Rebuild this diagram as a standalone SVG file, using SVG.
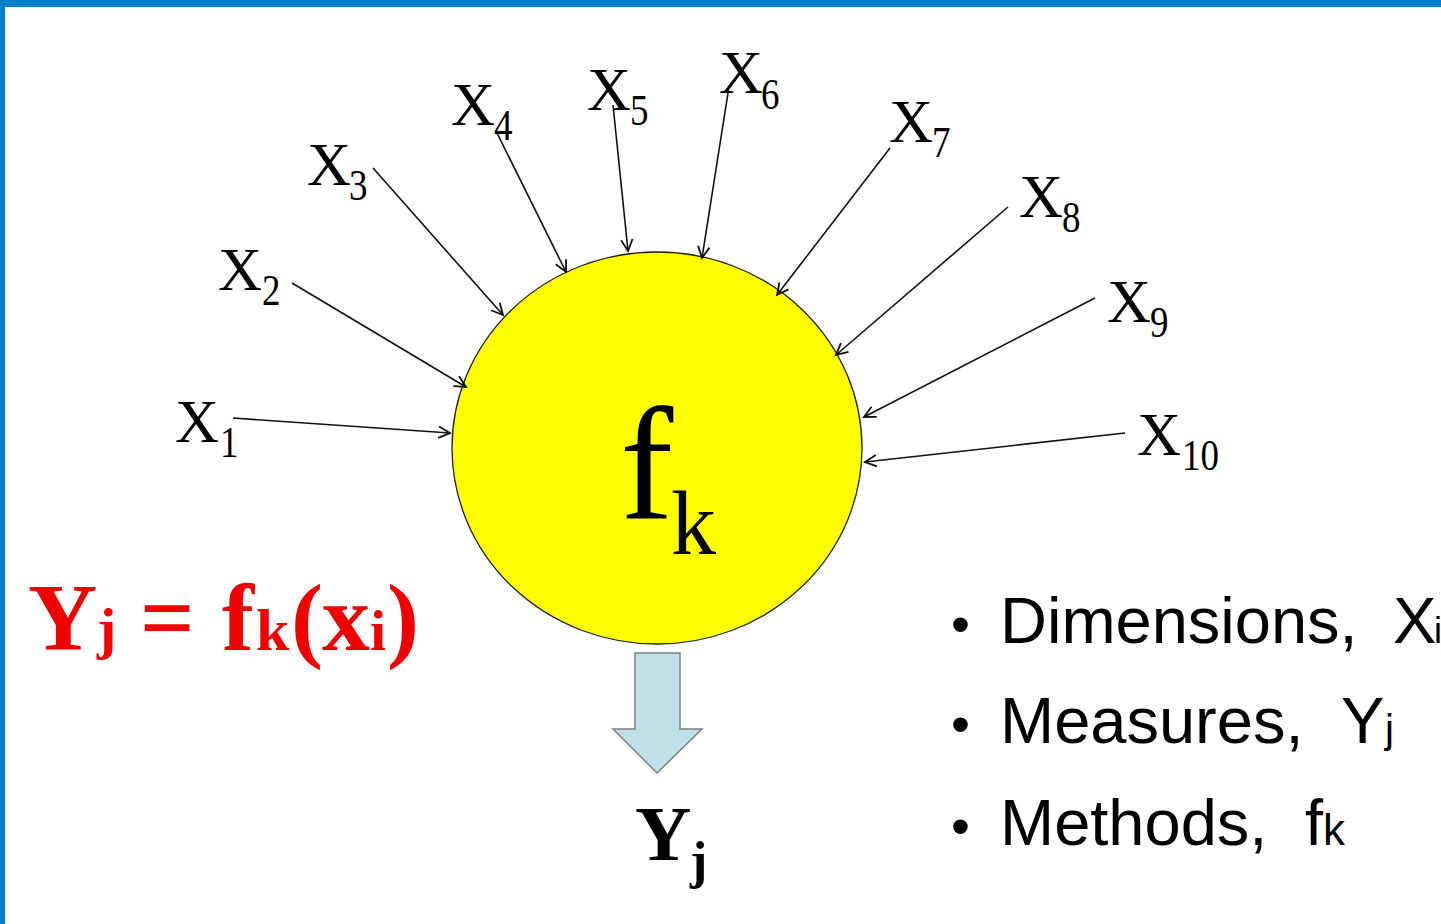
<svg xmlns="http://www.w3.org/2000/svg" width="1441" height="924" viewBox="0 0 1441 924">
<style>
.tm{font-family:"Liberation Serif","Times New Roman",serif;fill:#000}
.xl{font-size:61px}
.sub{font-size:37px}
.red{font-family:"Liberation Serif","Times New Roman",serif;font-weight:bold;fill:#F00000}
.bl{font-family:"Liberation Sans",Arial,sans-serif;fill:#000}
.conn line{stroke:#111;stroke-width:1.6;fill:none}
</style>
<defs>
<marker id="ah" markerUnits="userSpaceOnUse" markerWidth="16" markerHeight="16" refX="11" refY="6" orient="auto" viewBox="0 0 14 12">
<path d="M1,1 L11,6 L1,11" fill="none" stroke="#111" stroke-width="1.6"/>
</marker>
</defs>
<rect x="0" y="0" width="1441" height="924" fill="#fff"/>
<rect x="0" y="0" width="1441" height="7" fill="#0080CC"/>
<rect x="0" y="0" width="5" height="924" fill="#0080CC"/>

<g id="node-fk">
<ellipse cx="657" cy="448" rx="205" ry="196" fill="#FFFF00" stroke="#222" stroke-width="1.3"/>
<text class="tm" x="620" y="518" font-size="160">f</text>
<text class="tm" x="671" y="554" font-size="90">k</text>
</g>

<g id="connectors" class="conn">
<line x1="233" y1="418" x2="450" y2="433" marker-end="url(#ah)"/>
<line x1="292" y1="283" x2="466" y2="387" marker-end="url(#ah)"/>
<line x1="373" y1="168" x2="503" y2="315" marker-end="url(#ah)"/>
<line x1="497" y1="133" x2="566" y2="272" marker-end="url(#ah)"/>
<line x1="613" y1="105" x2="628" y2="251" marker-end="url(#ah)"/>
<line x1="728" y1="93" x2="702" y2="258" marker-end="url(#ah)"/>
<line x1="890" y1="148" x2="777" y2="295" marker-end="url(#ah)"/>
<line x1="1008" y1="207" x2="836" y2="355" marker-end="url(#ah)"/>
<line x1="1095" y1="298" x2="864" y2="417" marker-end="url(#ah)"/>
<line x1="1125" y1="433" x2="865" y2="462" marker-end="url(#ah)"/>
</g>

<g id="x1"><text class="tm xl" x="175" y="442">X</text><text class="tm sub" transform="translate(220,457) scale(1,1.2)">1</text></g>
<g id="x2"><text class="tm xl" x="218" y="290">X</text><text class="tm sub" transform="translate(262,305) scale(1,1.2)">2</text></g>
<g id="x3"><text class="tm xl" x="307" y="185">X</text><text class="tm sub" transform="translate(349,200) scale(1,1.2)">3</text></g>
<g id="x4"><text class="tm xl" x="451" y="125">X</text><text class="tm sub" transform="translate(494,140) scale(1,1.2)">4</text></g>
<g id="x5"><text class="tm xl" x="587" y="110">X</text><text class="tm sub" transform="translate(630,125) scale(1,1.2)">5</text></g>
<g id="x6"><text class="tm xl" x="719" y="93">X</text><text class="tm sub" transform="translate(761,109) scale(1,1.2)">6</text></g>
<g id="x7"><text class="tm xl" x="889" y="142">X</text><text class="tm sub" transform="translate(932,157) scale(1,1.2)">7</text></g>
<g id="x8"><text class="tm xl" x="1019" y="217">X</text><text class="tm sub" transform="translate(1062,232) scale(1,1.2)">8</text></g>
<g id="x9"><text class="tm xl" x="1107" y="322">X</text><text class="tm sub" transform="translate(1150,337) scale(1,1.2)">9</text></g>
<g id="x10"><text class="tm xl" x="1137" y="455">X</text><text class="tm sub" transform="translate(1182,470) scale(1,1.2)">10</text></g>

<g id="formula">
<text class="red" x="28" y="650" font-size="96">Y</text>
<text class="red" x="97" y="648" font-size="58">j</text>
<text class="red" x="140" y="650" font-size="96">=</text>
<text class="red" x="222" y="650" font-size="96">f</text>
<text class="red" x="256" y="650" font-size="60">k</text>
<text class="red" x="291" y="650" font-size="96">(</text>
<text class="red" x="322" y="650" font-size="96">x</text>
<text class="red" x="370" y="650" font-size="58">i</text>
<text class="red" x="387" y="650" font-size="96">)</text>
</g>

<g id="output-arrow">
<polygon points="635,653 680,653 680,729 702,729 657,773 613,729 635,729" fill="#BFE0E6" stroke="#808080" stroke-width="1.5"/>
</g>

<g id="node-yj">
<text class="tm" x="635" y="860" font-size="78" font-weight="bold">Y</text>
<text class="tm" x="690" y="878" font-size="52" font-weight="bold">j</text>
</g>

<g id="bullets">
<text class="bl" x="951" y="643" font-size="54">•</text>
<text class="bl" x="1000" y="643" font-size="65">Dimensions,</text>
<text class="bl" x="1393" y="643" font-size="65">X</text>
<text class="bl" x="1434" y="643" font-size="36">i</text>
<text class="bl" x="951" y="743" font-size="54">•</text>
<text class="bl" x="1000" y="743" font-size="65">Measures,</text>
<text class="bl" x="1341" y="743" font-size="65">Y</text>
<text class="bl" x="1385" y="743" font-size="40">j</text>
<text class="bl" x="951" y="845" font-size="54">•</text>
<text class="bl" x="1000" y="845" font-size="65">Methods,</text>
<text class="bl" x="1305" y="845" font-size="65">f</text>
<text class="bl" x="1323" y="845" font-size="44">k</text>
</g>
</svg>
